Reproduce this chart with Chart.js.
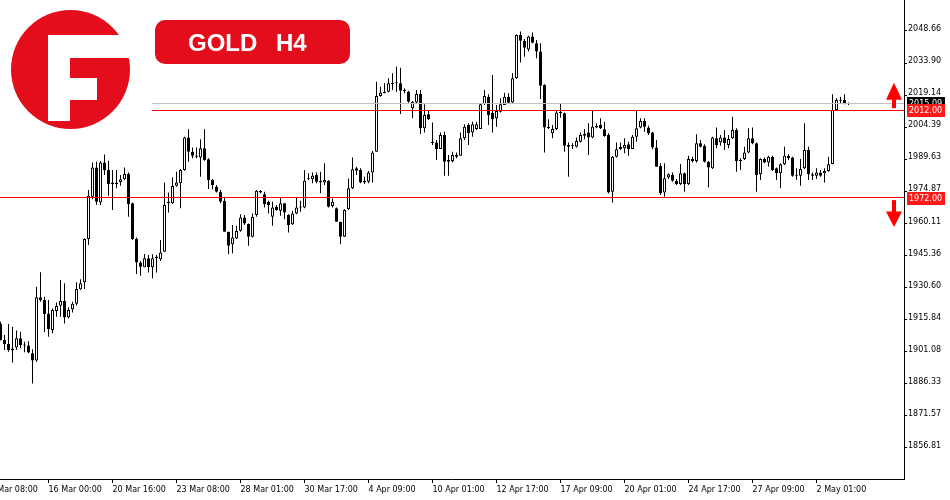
<!DOCTYPE html>
<html>
<head>
<meta charset="utf-8">
<script src="https://cdn.jsdelivr.net/npm/chart.js@4.4.1/dist/chart.umd.min.js"></script>
<style>
  html, body { margin: 0; padding: 0; background: #fff; }
  canvas { display: block; }
</style>
</head>
<body>
<canvas id="chart" width="950" height="500"></canvas>
<script>
// GOLD H4 candles (oldest first)
const opens = [
  1913.9, 1906.5, 1904.7, 1901.6, 1903.0, 1907.3, 1904.2, 1903.9, 1900.4, 1897.0,
  1926.1, 1924.9, 1918.7, 1911.1, 1919.8, 1922.3, 1924.4, 1916.9, 1920.6, 1923.2,
  1929.8, 1933.0, 1953.0, 1972.4, 1985.9, 1969.8, 1988.2, 1984.7, 1978.9, 1978.9,
  1979.2, 1980.4, 1982.9, 1969.4, 1953.0, 1942.1, 1939.9, 1944.1, 1939.9, 1944.8,
  1943.6, 1947.1, 1970.1, 1969.4, 1977.5, 1978.6, 1984.7, 1999.7, 1993.1, 1991.3,
  1990.4, 1994.7, 1989.6, 1980.1, 1977.0, 1974.7, 1970.6, 1956.3, 1950.5, 1953.2,
  1956.8, 1962.9, 1959.9, 1954.0, 1964.0, 1975.0, 1973.6, 1970.1, 1963.2, 1967.8,
  1966.0, 1969.4, 1964.0, 1959.7, 1964.7, 1967.5, 1967.5, 1980.4, 1980.5, 1982.4,
  1979.6, 1979.0, 1979.8, 1968.1, 1967.1, 1960.9, 1954.0, 1966.6, 1976.3, 1985.5,
  1984.7, 1979.6, 1979.3, 1983.6, 1993.1, 2018.7, 2020.0, 2020.7, 2024.3, 2024.6,
  2024.6, 2021.5, 2020.7, 2013.1, 2015.8, 2019.7, 2003.9, 2010.3, 1997.7, 1997.4,
  1994.4, 2000.8, 1989.3, 1988.8, 1990.8, 1991.3, 1999.3, 2005.4, 2002.0, 2003.6,
  2003.6, 2015.1, 2018.4, 2011.1, 2008.5, 2011.5, 2014.6, 2018.4, 2015.8, 2026.9,
  2046.8, 2044.2, 2040.2, 2046.1, 2043.0, 2039.2, 2023.8, 2004.5, 2001.6, 2003.6,
  2011.5, 2010.8, 1996.2, 1995.6, 1995.4, 1997.7, 2000.5, 2001.9, 1999.6, 2005.1,
  2005.4, 2003.4, 2000.8, 1974.7, 1990.8, 1995.4, 1994.7, 1996.5, 1994.4, 2000.0,
  2004.2, 2007.2, 2004.3, 2002.0, 1995.1, 1986.5, 1974.4, 1981.2, 1982.4, 1979.6,
  1978.3, 1983.2, 1978.3, 1989.8, 1988.8, 1997.0, 1995.7, 1988.5, 1985.5, 1999.3,
  1997.4, 1999.6, 1996.2, 1999.3, 2003.1, 1989.3, 1989.8, 1992.8, 1999.3, 1997.0,
  1982.7, 1989.8, 1988.2, 1990.8, 1985.5, 1983.2, 1987.3, 1991.3, 1990.4, 1982.4,
  1982.1, 1985.5, 1993.9, 1982.7, 1982.1, 1983.6, 1983.2, 1984.2, 1987.5, 2012.3,
  2016.9, 2016.9, 2015.2
];
const highs = [
  1914.9, 1908.8, 1913.9, 1912.6, 1910.8, 1910.3, 1905.7, 1905.9, 1902.2, 1931.0,
  1937.6, 1926.4, 1924.9, 1921.0, 1923.7, 1934.1, 1932.6, 1921.5, 1924.1, 1933.0,
  1934.4, 1953.3, 1975.5, 1988.1, 1988.5, 1988.8, 1991.8, 1989.0, 1984.7, 1984.7,
  1982.4, 1985.8, 1983.5, 1969.7, 1953.7, 1942.8, 1946.1, 1945.6, 1945.9, 1945.6,
  1952.5, 1979.0, 1974.3, 1981.3, 1983.9, 1985.2, 2000.0, 2003.4, 1995.1, 1995.1,
  1998.8, 2003.4, 1990.1, 1980.4, 1977.8, 1975.5, 1972.4, 1956.3, 1959.4, 1959.1,
  1964.3, 1964.0, 1960.1, 1964.7, 1975.5, 1975.5, 1974.7, 1970.6, 1970.1, 1968.6,
  1972.0, 1969.4, 1964.3, 1965.8, 1972.0, 1970.6, 1984.7, 1983.2, 1983.6, 1983.6,
  1983.9, 1987.8, 1980.1, 1971.7, 1967.4, 1960.9, 1966.7, 1980.8, 1990.4, 1986.2,
  1985.5, 1981.6, 1984.2, 1993.4, 2025.3, 2023.0, 2024.6, 2026.9, 2029.2, 2032.2,
  2031.8, 2022.3, 2021.2, 2016.4, 2021.5, 2021.5, 2014.9, 2012.3, 2006.6, 1998.5,
  2002.0, 2002.3, 1991.6, 1993.1, 1992.8, 2002.0, 2005.7, 2006.2, 2006.9, 2006.9,
  2015.2, 2021.5, 2019.5, 2028.4, 2014.6, 2017.7, 2020.3, 2020.0, 2029.2, 2047.1,
  2048.4, 2045.0, 2046.5, 2048.0, 2044.5, 2043.0, 2024.1, 2008.0, 2005.4, 2011.9,
  2015.4, 2011.2, 1997.4, 1997.0, 1999.6, 2002.0, 2003.6, 2006.2, 2011.9, 2006.2,
  2008.5, 2006.9, 2001.6, 1991.1, 1997.4, 1997.4, 1999.3, 1997.7, 2000.8, 2012.3,
  2008.5, 2008.5, 2005.1, 2002.3, 1998.5, 1987.8, 1987.8, 1983.2, 1983.6, 1980.6,
  1987.5, 1983.6, 1991.3, 1990.8, 2001.1, 1998.5, 1996.5, 1988.8, 2000.0, 2004.2,
  2000.8, 2003.1, 2000.8, 2009.2, 2003.9, 1990.1, 1995.4, 2003.9, 2004.2, 1997.4,
  1990.1, 1990.4, 1991.3, 1991.3, 1985.8, 1987.8, 1995.4, 1991.9, 1990.8, 1985.5,
  1989.8, 2006.2, 1995.4, 1983.6, 1985.5, 1984.7, 1985.5, 1990.8, 2019.5, 2017.7,
  2018.4, 2019.5, 2015.8
];
const lows = [
  1906.2, 1901.9, 1901.1, 1896.1, 1901.9, 1902.7, 1900.8, 1900.4, 1886.5, 1896.5,
  1924.1, 1910.0, 1908.0, 1909.6, 1917.2, 1917.2, 1914.1, 1916.4, 1919.1, 1922.4,
  1929.6, 1929.9, 1950.2, 1971.2, 1968.6, 1968.6, 1982.4, 1972.9, 1966.3, 1976.3,
  1977.5, 1980.1, 1963.2, 1952.5, 1936.9, 1936.1, 1939.9, 1937.5, 1934.9, 1937.5,
  1942.8, 1947.1, 1965.2, 1969.1, 1977.0, 1967.1, 1984.4, 1988.5, 1990.1, 1990.1,
  1981.6, 1989.0, 1976.0, 1975.8, 1974.3, 1969.4, 1956.3, 1945.9, 1946.4, 1952.9,
  1956.3, 1959.4, 1949.9, 1953.6, 1963.2, 1974.0, 1967.4, 1964.7, 1959.1, 1966.0,
  1963.7, 1962.0, 1956.0, 1959.4, 1964.3, 1965.5, 1967.1, 1980.1, 1978.6, 1978.6,
  1974.0, 1977.8, 1967.4, 1967.5, 1960.9, 1950.5, 1954.0, 1966.3, 1976.0, 1982.4,
  1978.6, 1978.3, 1978.6, 1979.0, 1993.1, 2018.4, 2020.0, 2020.4, 2021.5, 2020.7,
  2010.5, 2020.0, 2015.7, 2008.5, 2015.4, 2001.3, 2002.0, 2007.7, 1996.2, 1989.3,
  1994.4, 1982.1, 1982.1, 1988.2, 1990.1, 1991.3, 1998.5, 1996.2, 2000.0, 2003.1,
  2003.6, 2014.6, 2005.4, 2002.0, 2004.6, 2011.2, 2014.6, 2015.4, 2015.4, 2026.6,
  2034.2, 2036.8, 2039.2, 2043.0, 2036.1, 2017.4, 1992.8, 2003.6, 1999.3, 2003.1,
  2008.8, 1993.1, 1981.6, 1994.4, 1995.0, 1997.4, 1998.9, 1991.6, 1999.3, 2003.9,
  2003.6, 2000.0, 1973.9, 1969.7, 1990.5, 1993.9, 1992.4, 1991.3, 1994.4, 1997.7,
  2003.9, 2002.3, 2000.8, 1994.3, 1986.2, 1973.2, 1972.4, 1980.6, 1979.3, 1977.8,
  1977.8, 1974.7, 1977.8, 1988.2, 1988.2, 1995.0, 1988.2, 1976.6, 1985.2, 1994.7,
  1995.9, 1993.9, 1994.7, 1999.0, 1983.9, 1984.7, 1989.3, 1992.4, 1996.5, 1974.7,
  1980.1, 1987.8, 1986.2, 1984.2, 1980.1, 1976.3, 1987.0, 1989.3, 1981.6, 1980.1,
  1977.5, 1985.2, 1980.1, 1980.1, 1980.6, 1981.6, 1979.0, 1983.9, 1987.3, 2011.8,
  2015.4, 2014.9, 2014.6
];
const closes = [
  1906.5, 1904.7, 1901.9, 1902.6, 1907.3, 1904.2, 1903.9, 1900.7, 1897.0, 1926.1,
  1924.9, 1918.4, 1911.5, 1920.3, 1922.1, 1924.4, 1916.8, 1920.3, 1923.2, 1929.9,
  1932.6, 1953.0, 1972.9, 1985.9, 1970.1, 1988.2, 1984.7, 1978.3, 1978.1, 1978.1,
  1980.4, 1982.9, 1969.1, 1953.0, 1942.1, 1940.2, 1944.1, 1939.9, 1944.1, 1944.1,
  1946.8, 1968.6, 1969.4, 1977.3, 1978.9, 1984.7, 1999.7, 1993.1, 1991.3, 1990.8,
  1994.7, 1989.3, 1980.1, 1977.8, 1974.7, 1970.1, 1956.3, 1949.9, 1953.6, 1956.6,
  1962.9, 1960.1, 1954.0, 1963.2, 1975.2, 1974.4, 1969.0, 1968.6, 1967.5, 1966.3,
  1969.4, 1965.2, 1959.4, 1964.7, 1967.5, 1967.8, 1979.8, 1980.7, 1982.1, 1979.3,
  1979.0, 1980.1, 1967.8, 1970.1, 1960.9, 1954.0, 1966.3, 1976.3, 1985.0, 1984.4,
  1978.9, 1978.9, 1983.6, 1992.8, 2018.7, 2020.4, 2020.7, 2024.6, 2024.6, 2024.9,
  2021.2, 2021.0, 2016.1, 2016.1, 2019.7, 2003.9, 2010.0, 2008.0, 1997.1, 1994.4,
  2000.8, 1988.5, 1988.5, 1991.6, 1991.6, 1999.3, 2004.6, 2001.6, 2005.7, 2005.7,
  2014.9, 2018.8, 2010.0, 2008.0, 2011.9, 2014.9, 2018.4, 2015.7, 2026.9, 2046.8,
  2044.2, 2041.0, 2046.1, 2043.3, 2039.2, 2023.5, 2004.3, 2004.0, 2003.6, 2011.2,
  2010.8, 1995.9, 1995.4, 1995.9, 1998.0, 2000.8, 2001.3, 1999.6, 2004.6, 2004.2,
  2003.9, 2000.3, 1974.3, 1990.8, 1994.2, 1994.4, 1996.2, 1994.4, 2000.0, 2003.9,
  2007.2, 2004.6, 2001.6, 1995.0, 1986.2, 1974.0, 1980.9, 1982.7, 1979.8, 1978.3,
  1983.2, 1978.1, 1989.8, 1988.8, 1997.0, 1995.4, 1988.5, 1985.8, 1999.6, 1996.2,
  1999.6, 1997.0, 1999.0, 2003.1, 1988.8, 1988.8, 1992.8, 1999.3, 1997.0, 1982.4,
  1989.8, 1988.2, 1990.8, 1984.7, 1983.2, 1987.3, 1991.3, 1990.1, 1982.1, 1982.1,
  1985.2, 1993.9, 1982.7, 1982.1, 1983.6, 1982.1, 1984.2, 1987.3, 2012.3, 2016.9,
  2016.6, 2014.9, 2015.09
];

// time axis labels sit on every 16th candle
const xTickIndex = [-4, 12, 28, 44, 60, 76, 92, 108, 124, 140, 156, 172, 188, 204];
const xTickLabels = ['13 Mar 08:00', '16 Mar 00:00', '20 Mar 16:00', '23 Mar 08:00', '28 Mar 01:00',
  '30 Mar 17:00', '4 Apr 09:00', '10 Apr 01:00', '12 Apr 17:00', '17 Apr 09:00',
  '20 Apr 01:00', '24 Apr 17:00', '27 Apr 09:00', '2 May 01:00'];
const yTicks = [1856.81, 1871.57, 1886.33, 1901.08, 1915.84, 1930.60, 1945.36,
  1960.11, 1974.87, 1989.63, 2004.39, 2019.14, 2033.90, 2048.66];

const bidPrice = 2015.09;
const resistance = 2012.00;
const support = 1972.00;

const RED = '#e30d1b';
const axisFont = { family: '"DejaVu Sans", sans-serif', size: 8 };

const bodies = opens.map((o, i) => ({ x: i, y: [Math.min(o, closes[i]), Math.max(o, closes[i])] }));
const bodyColors = opens.map((o, i) => closes[i] >= o ? '#ffffff' : '#000000');
const wicks = lows.map((l, i) => ({ x: i, y: [l, highs[i]] }));

const overlay = {
  id: 'overlay',
  beforeDraw(chart) {
    const c = chart.ctx;
    c.save();
    c.fillStyle = '#fff';
    c.fillRect(0, 0, chart.width, chart.height);
    c.restore();
  },
  afterDatasetsDraw(chart) {
    const c = chart.ctx, y = chart.scales.y, area = chart.chartArea;
    c.save();
    c.fillStyle = '#c0c0c0';
    c.fillRect(152, Math.floor(y.getPixelForValue(bidPrice)), area.right - 152, 1);
    c.fillStyle = '#ff0000';
    c.fillRect(152, Math.floor(y.getPixelForValue(resistance)), area.right - 152, 1);
    c.fillRect(area.left, Math.floor(y.getPixelForValue(support)), area.right - area.left, 1);
    c.restore();
  },
  afterDraw(chart) {
    const c = chart.ctx, y = chart.scales.y;
    c.save();

    // price tags on the axis
    function tag(value, fill, yShift) {
      const py = y.getPixelForValue(value) + yShift;
      c.fillStyle = fill;
      c.fillRect(907, Math.round(py - 6.5), 38, 13);
      c.fillStyle = '#fff';
      c.font = '8px "DejaVu Sans", sans-serif';
      c.textBaseline = 'middle';
      c.textAlign = 'left';
      c.fillText(value.toFixed(2), 909, py);
    }
    tag(bidPrice, '#000', 0);
    tag(resistance, '#ff1a1a', 0);
    tag(support, '#ff1a1a', 1);

    // arrows
    const yr = y.getPixelForValue(resistance);
    const ys = y.getPixelForValue(support);
    c.fillStyle = '#ff0000';
    c.beginPath();
    c.moveTo(894, yr - 28); c.lineTo(902, yr - 11); c.lineTo(886, yr - 11); c.closePath();
    c.fill();
    c.fillRect(892, yr - 11.5, 4, 9);
    c.fillRect(892, ys + 2.5, 4, 12);
    c.beginPath();
    c.moveTo(886, ys + 14); c.lineTo(902, ys + 14); c.lineTo(894, ys + 29.5); c.closePath();
    c.fill();

    // logo
    c.fillStyle = RED;
    c.beginPath();
    c.arc(70.5, 69.5, 59.5, 0, Math.PI * 2);
    c.fill();
    c.fillStyle = '#fff';
    c.fillRect(48, 35, 22, 86);
    c.fillRect(48, 35, 90, 23);
    c.fillRect(70, 78, 27, 22);

    // title box
    c.fillStyle = RED;
    c.beginPath();
    c.roundRect(155, 20, 195, 44, 10);
    c.fill();
    c.fillStyle = '#fff';
    c.font = 'bold 24px "Liberation Sans", Arial, sans-serif';
    c.textBaseline = 'alphabetic';
    c.textAlign = 'left';
    c.fillText('GOLD', 188, 51);
    c.fillText('H4', 276, 51);
    c.restore();
  }
};

new Chart(document.getElementById('chart'), {
  type: 'bar',
  data: {
    datasets: [
      {
        label: 'body',
        data: bodies,
        backgroundColor: bodyColors,
        borderColor: '#000',
        borderWidth: 1,
        borderSkipped: false,
        barThickness: 3,
        minBarLength: 1,
        inflateAmount: 0,
        grouped: false,
        order: 0
      },
      {
        label: 'wick',
        data: wicks,
        backgroundColor: '#000',
        borderWidth: 0,
        barThickness: 1,
        inflateAmount: 0,
        grouped: false,
        order: 1
      }
    ]
  },
  options: {
    responsive: false,
    animation: false,
    devicePixelRatio: 1,
    layout: { padding: 0 },
    plugins: { legend: { display: false }, tooltip: { enabled: false } },
    scales: {
      x: {
        type: 'linear',
        min: -0.125,
        max: 225.875,
        offset: false,
        grid: { offset: false, drawOnChartArea: false, drawTicks: true, tickLength: 4, color: '#000' },
        border: { color: '#000', width: 1 },
        ticks: {
          autoSkip: false,
          maxRotation: 0,
          align: 'start',
          padding: 2,
          color: '#000',
          font: axisFont,
          callback: (v, i) => xTickLabels[i]
        },
        afterBuildTicks: s => { s.ticks = xTickIndex.map(v => ({ value: v })); },
        afterFit: s => { s.height = 21; s.paddingLeft = 0; s.paddingRight = 0; }
      },
      y: {
        type: 'linear',
        position: 'right',
        min: 1842.53,
        max: 2062.92,
        grid: { drawOnChartArea: false, drawTicks: true, tickLength: 3, color: '#000' },
        border: { color: '#000', width: 1 },
        ticks: {
          color: '#000',
          font: axisFont,
          padding: 1,
          labelOffset: -2,
          callback: v => Number(v).toFixed(2)
        },
        afterBuildTicks: s => { s.ticks = yTicks.map(v => ({ value: v })); },
        afterFit: s => { s.width = 46; s.paddingTop = 0; s.paddingBottom = 0; }
      }
    }
  },
  plugins: [overlay]
});
</script>
</body>
</html>
